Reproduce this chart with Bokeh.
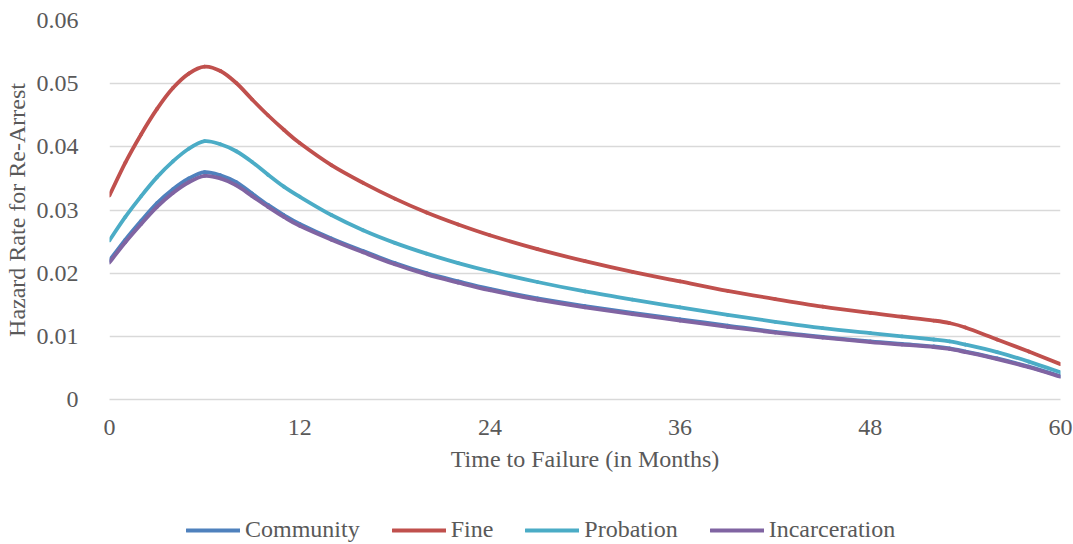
from bokeh.plotting import figure
from bokeh.layouts import column
from bokeh.models import Legend, LegendItem, FixedTicker, CustomJSTickFormatter, Range1d
from bokeh.embed import file_html
from bokeh.resources import INLINE

months = [0, 1, 2, 3, 4, 5, 6, 7, 8, 9, 10, 11, 12, 14, 16, 18, 20, 22, 24, 27, 30,
          33, 36, 39, 42, 45, 48, 50, 52, 53, 54, 56, 58, 60]

community = [0.0220, 0.0253, 0.0283, 0.0311, 0.0333, 0.0350, 0.0360, 0.0355, 0.0344,
             0.0326, 0.0308, 0.0292, 0.0278, 0.0255, 0.0235, 0.0216, 0.0200, 0.0187,
             0.0175, 0.0160, 0.0148, 0.0137, 0.0127, 0.0117, 0.0107, 0.0099, 0.0092,
             0.0088, 0.0084, 0.0081, 0.0076, 0.0065, 0.0052, 0.0037]

fine = [0.0323, 0.0375, 0.0420, 0.0460, 0.0493, 0.0516, 0.0527, 0.0520, 0.0501,
        0.0475, 0.0450, 0.0427, 0.0406, 0.0371, 0.0343, 0.0318, 0.0296, 0.0277,
        0.0260, 0.0238, 0.0219, 0.0202, 0.0187, 0.0172, 0.0159, 0.0147, 0.0137,
        0.0131, 0.0125, 0.0121, 0.0114, 0.0095, 0.0076, 0.0056]

probation = [0.0252, 0.0289, 0.0322, 0.0352, 0.0377, 0.0397, 0.0409, 0.0404, 0.0393,
             0.0376, 0.0356, 0.0337, 0.0321, 0.0292, 0.0268, 0.0248, 0.0231, 0.0216,
             0.0203, 0.0186, 0.0171, 0.0158, 0.0146, 0.0134, 0.0123, 0.0113, 0.0105,
             0.0100, 0.0095, 0.0092, 0.0087, 0.0075, 0.0060, 0.0043]

incarceration = [0.0217, 0.0249, 0.0278, 0.0305, 0.0327, 0.0344, 0.0354, 0.0350, 0.0339,
                 0.0322, 0.0305, 0.0289, 0.0275, 0.0253, 0.0233, 0.0214, 0.0198, 0.0185,
                 0.0173, 0.0158, 0.0146, 0.0135, 0.0125, 0.0115, 0.0106, 0.0098, 0.0091,
                 0.0087, 0.0083, 0.0080, 0.0075, 0.0064, 0.0051, 0.0036]

series_names = ["Community", "Fine", "Probation", "Incarceration"]
series_values = [community, fine, probation, incarceration]
series_colors = ["#4F81BD", "#C0504D", "#4BACC6", "#8064A2"]

x_ticks = [0, 12, 24, 36, 48, 60]
y_ticks = [0, 0.01, 0.02, 0.03, 0.04, 0.05, 0.06]

FONT = "Liberation Serif"
TXT = "#595959"
FS = "24px"

p = figure(width=1073, height=480, output_backend="svg", toolbar_location=None,
           x_range=Range1d(0, 60), y_range=Range1d(0, 0.06),
           min_border_left=107, min_border_right=13, min_border_top=20,
           min_border_bottom=81)
p.outline_line_color = None
p.background_fill_color = "white"
p.border_fill_color = "white"

p.xgrid.grid_line_color = None
p.ygrid.grid_line_color = "#D9D9D9"
p.ygrid.grid_line_width = 1.5

p.xaxis.ticker = FixedTicker(ticks=x_ticks)
p.yaxis.ticker = FixedTicker(ticks=y_ticks)
p.yaxis.formatter = CustomJSTickFormatter(code="return tick == 0 ? '0' : tick.toFixed(2);")

for ax in (p.xaxis, p.yaxis):
    ax.major_tick_line_color = None
    ax.minor_tick_line_color = None
    ax.major_label_text_font = FONT
    ax.major_label_text_font_size = FS
    ax.major_label_text_color = TXT
    ax.axis_label_text_font = FONT
    ax.axis_label_text_font_size = FS
    ax.axis_label_text_color = TXT
    ax.axis_label_text_font_style = "normal"

p.yaxis.axis_line_color = None
p.xaxis.axis_line_color = "#D9D9D9"
p.xaxis.axis_line_width = 1.5
p.yaxis.major_label_standoff = 25
p.xaxis.major_label_standoff = 14
p.yaxis.axis_label = "Hazard Rate for Re-Arrest"
p.xaxis.axis_label = "Time to Failure (in Months)"
p.yaxis.axis_label_standoff = 4
p.xaxis.axis_label_standoff = 8


def smooth_segments(xs, ys):
    # Catmull-Rom style cubic Bezier segments through the data points
    n = len(xs)
    x0, y0, x1, y1, cx0, cy0, cx1, cy1 = [], [], [], [], [], [], [], []
    for i in range(n - 1):
        xa, ya = xs[max(i - 1, 0)], ys[max(i - 1, 0)]
        xb, yb = xs[i], ys[i]
        xc, yc = xs[i + 1], ys[i + 1]
        xd, yd = xs[min(i + 2, n - 1)], ys[min(i + 2, n - 1)]
        x0.append(xb); y0.append(yb); x1.append(xc); y1.append(yc)
        cx0.append(xb + (xc - xa) / 6.0); cy0.append(yb + (yc - ya) / 6.0)
        cx1.append(xc - (xd - xb) / 6.0); cy1.append(yc - (yd - yb) / 6.0)
    return dict(x0=x0, y0=y0, x1=x1, y1=y1, cx0=cx0, cy0=cy0, cx1=cx1, cy1=cy1)


for name, vals, col in zip(series_names, series_values, series_colors):
    seg = smooth_segments(months, vals)
    p.bezier(x0=seg["x0"], y0=seg["y0"], x1=seg["x1"], y1=seg["y1"],
             cx0=seg["cx0"], cy0=seg["cy0"], cx1=seg["cx1"], cy1=seg["cy1"],
             line_color=col, line_width=3.8, line_cap="round")

# legend strip below the chart (frames are aligned by the column layout)
lg = figure(width=1073, height=64, output_backend="svg", toolbar_location=None,
            x_range=Range1d(0, 60), y_range=Range1d(0, 0.06),
            min_border_left=0, min_border_right=0, min_border_top=0,
            min_border_bottom=0)
lg.axis.visible = False
lg.grid.visible = False
lg.outline_line_color = None
lg.border_fill_color = "white"

items = []
for name, vals, col in zip(series_names, series_values, series_colors):
    r = lg.line(x=months, y=vals, line_color=col, line_width=3.8, line_cap="round",
                visible=False)
    items.append(LegendItem(label=name, renderers=[r]))

legend = Legend(items=items, orientation="horizontal", location=(77, 1),
                glyph_width=54, glyph_height=18, label_standoff=5, spacing=32,
                padding=0, margin=0, border_line_color=None,
                background_fill_alpha=0, inactive_fill_alpha=0,
                label_text_font=FONT, label_text_font_size=FS,
                label_text_color=TXT)
lg.add_layout(legend, "center")

layout = column(p, lg, spacing=0)
open("out.html", "w").write(file_html(layout, INLINE))
